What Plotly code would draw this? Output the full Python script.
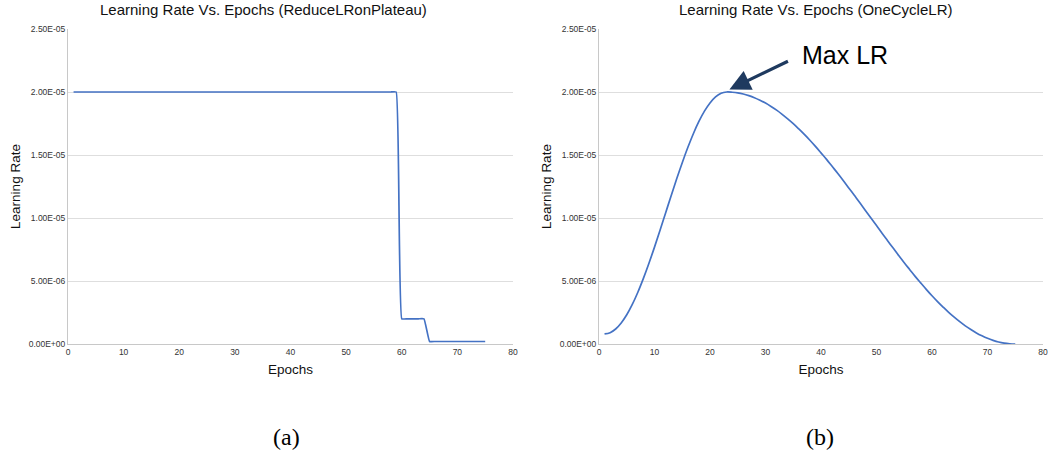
import plotly.graph_objects as go

# ---------------- data ----------------
epochs = list(range(1, 76))

# ReduceLROnPlateau learning rate per epoch
lr_plateau = [2.0e-5] * 59 + [2.0e-6] * 5 + [2.0e-7] * 11

# OneCycleLR learning rate per epoch
lr_onecycle = [
    0.80e-6, 0.90e-6, 1.19e-6, 1.67e-6, 2.32e-6, 3.14e-6, 4.11e-6, 5.21e-6, 6.41e-6, 7.69e-6,
    9.03e-6, 10.40e-6, 11.77e-6, 13.11e-6, 14.39e-6, 15.59e-6, 16.69e-6, 17.66e-6, 18.48e-6, 19.13e-6,
    19.61e-6, 19.90e-6, 20.00e-6, 19.98e-6, 19.93e-6, 19.84e-6, 19.71e-6, 19.55e-6, 19.35e-6, 19.12e-6,
    18.85e-6, 18.56e-6, 18.23e-6, 17.87e-6, 17.49e-6, 17.07e-6, 16.63e-6, 16.17e-6, 15.68e-6, 15.17e-6,
    14.65e-6, 14.10e-6, 13.55e-6, 12.98e-6, 12.39e-6, 11.80e-6, 11.21e-6, 10.60e-6, 10.00e-6, 9.40e-6,
    8.79e-6, 8.20e-6, 7.61e-6, 7.02e-6, 6.45e-6, 5.90e-6, 5.35e-6, 4.83e-6, 4.32e-6, 3.83e-6,
    3.37e-6, 2.93e-6, 2.51e-6, 2.13e-6, 1.77e-6, 1.44e-6, 1.15e-6, 0.88e-6, 0.65e-6, 0.45e-6,
    0.29e-6, 0.16e-6, 0.07e-6, 0.02e-6, 0.00e-6,
]

y_tickvals = [0, 5e-6, 1e-5, 1.5e-5, 2e-5, 2.5e-5]
y_ticktext = ["0.00E+00", "5.00E-06", "1.00E-05", "1.50E-05", "2.00E-05", "2.50E-05"]
x_tickvals = [0, 10, 20, 30, 40, 50, 60, 70, 80]

titles = ["Learning Rate Vs. Epochs (ReduceLRonPlateau)", "Learning Rate Vs. Epochs (OneCycleLR)"]
panel_labels = ["(a)", "(b)"]
peak_epoch = 23.5
peak_lr = 2.02e-5

# ---------------- figure ----------------
LINE = "#4472c4"
GRID = "#dedede"
AXIS = "#c8c8c8"
TXT = "#333333"
SANS = "Arial, Liberation Sans"

W, H = 1062, 465

def px(x):
    return x / W

def py(y):
    return 1 - y / H

fig = go.Figure()
fig.add_trace(go.Scatter(x=epochs, y=lr_plateau, mode="lines",
                         line=dict(color=LINE, width=1.7, shape="spline", smoothing=0.3),
                         xaxis="x", yaxis="y", showlegend=False))
fig.add_trace(go.Scatter(x=epochs, y=lr_onecycle, mode="lines",
                         line=dict(color=LINE, width=1.7, shape="spline", smoothing=1.0),
                         xaxis="x2", yaxis="y2", showlegend=False))

ydom = [py(344), py(29)]
xdoms = [[px(68), px(513)], [px(599), px(1043)]]

def xaxis(dom, anchor):
    return dict(domain=dom, anchor=anchor, range=[0, 80], tickvals=x_tickvals, automargin=False,
                showgrid=False, zeroline=False, showline=True, linecolor=AXIS, linewidth=1,
                ticks="", tickfont=dict(family=SANS, size=8.5, color=TXT),
                title=dict(text="Epochs", font=dict(family=SANS, size=13.5, color="#111"),
                           standoff=8))

def yaxis(anchor):
    return dict(domain=ydom, anchor=anchor, range=[0, 2.5e-5], tickvals=y_tickvals, ticktext=y_ticktext,
                automargin=False,
                showgrid=True, gridcolor=GRID, gridwidth=1, zeroline=False,
                showline=True, linecolor=AXIS, linewidth=1, ticks="",
                tickfont=dict(family=SANS, size=8.5, color=TXT),
                title=dict(text="Learning Rate", font=dict(family=SANS, size=13.5, color="#111"),
                           standoff=4))

fig.update_layout(
    width=W, height=H,
    margin=dict(l=0, r=0, t=0, b=0, autoexpand=False),
    paper_bgcolor="white", plot_bgcolor="white",
    xaxis=xaxis(xdoms[0], "y"), yaxis=yaxis("x"),
    xaxis2=xaxis(xdoms[1], "y2"), yaxis2=yaxis("x2"),
)

annotations = []
title_centers = [263, 815]
label_centers = [286, 820]
for i in range(2):
    annotations.append(dict(text=titles[i], xref="paper", yref="paper",
                            x=px(title_centers[i]), y=py(10), xanchor="center", yanchor="middle",
                            showarrow=False, font=dict(family=SANS, size=15, color="#111")))
    annotations.append(dict(text=panel_labels[i], xref="paper", yref="paper",
                            x=px(label_centers[i]), y=py(437), xanchor="center", yanchor="middle",
                            showarrow=False, font=dict(family="Liberation Serif, Times New Roman, serif", size=24, color="#000")))

# arrow pointing to max LR
annotations.append(dict(text="", x=peak_epoch, y=peak_lr, xref="x2", yref="y2",
                        ax=60, ay=-29, axref="pixel", ayref="pixel",
                        showarrow=True, arrowhead=2, arrowsize=1.3, arrowwidth=3.2, arrowcolor="#1f3a5f"))
annotations.append(dict(text="Max LR", xref="paper", yref="paper", x=px(800), y=py(55),
                        xanchor="left", yanchor="middle", showarrow=False,
                        font=dict(family=SANS, size=25, color="#000")))

fig.update_layout(annotations=annotations)
# remove the browser's default 8px body margin so the figure fills the window exactly
fig.write_html("out.html", config={"displayModeBar": False},
               post_script="document.body.style.margin='0';document.body.style.overflow='hidden';")
